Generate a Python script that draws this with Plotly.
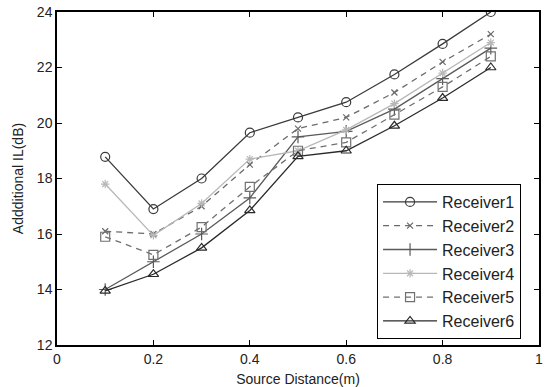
import plotly.graph_objects as go

x = [0.1, 0.2, 0.3, 0.4, 0.5, 0.6, 0.7, 0.8, 0.9]
r1 = [18.78, 16.9, 18.0, 19.65, 20.2, 20.75, 21.75, 22.85, 24.0]
r2 = [16.1, 16.0, 17.0, 18.5, 19.8, 20.2, 21.1, 22.2, 23.2]
r3 = [14.0, 15.0, 16.0, 17.3, 19.5, 19.7, 20.5, 21.6, 22.7]
r4 = [17.8, 15.95, 17.1, 18.7, 19.0, 19.75, 20.7, 21.8, 22.9]
r5 = [15.9, 15.25, 16.25, 17.7, 19.0, 19.3, 20.3, 21.3, 22.4]
r6 = [13.95, 14.55, 15.5, 16.85, 18.8, 19.0, 19.9, 20.9, 22.0]
names = ["Receiver1", "Receiver2", "Receiver3", "Receiver4", "Receiver5", "Receiver6"]
series = [r1, r2, r3, r4, r5, r6]

styles = [
    dict(color="#3a3a3a", dash="solid", symbol="circle-open", size=9),
    dict(color="#6a6a6a", dash="6px,5px", symbol="x-thin-open", size=6),
    dict(color="#5a5a5a", dash="solid", symbol="cross-thin-open", size=9),
    dict(color="#b8b8b8", dash="solid", symbol="asterisk-open", size=7),
    dict(color="#707070", dash="6px,5px", symbol="square-open", size=9),
    dict(color="#2a2a2a", dash="solid", symbol="triangle-up-open", size=9),
]

FONT = "Liberation Sans"

fig = go.Figure()
for i, (n, s, st) in enumerate(zip(names, series, styles)):
    fig.add_trace(go.Scatter(
        x=x, y=s, name=n, mode="lines+markers", legendgroup=n,
        line=dict(color=st["color"], dash=st["dash"], width=1.3),
        marker=dict(symbol=st["symbol"], size=st["size"], color=st["color"],
                    line=dict(color=st["color"], width=1.2)),
    ))

axis_common = dict(showline=True, linecolor="black", linewidth=1.5, mirror="ticks",
                   ticks="inside", ticklen=5, tickcolor="black", showgrid=False,
                   zeroline=False, automargin=False,
                   tickfont=dict(family=FONT, size=14, color="#222"))

fig.update_layout(
    width=551, height=387,
    margin=dict(l=57, r=12, t=12, b=42),
    paper_bgcolor="white", plot_bgcolor="white",
    font=dict(family=FONT, size=14, color="#222"),
    xaxis=dict(range=[0, 1], tickvals=[0, 0.2, 0.4, 0.6, 0.8, 1],
               ticktext=["0", "0.2", "0.4", "0.6", "0.8", "1"],
               title=dict(text="Source Distance(m)", standoff=10, font=dict(size=14)),
               **axis_common),
    yaxis=dict(range=[12, 24], tickvals=[12, 14, 16, 18, 20, 22, 24],
               title=dict(text="Addditional IL(dB)", standoff=10, font=dict(size=14)),
               **axis_common),
    legend=dict(x=0.664, y=0.4835, xanchor="left", yanchor="top",
                bordercolor="black", borderwidth=1, bgcolor="white",
                font=dict(size=16, color="#222"), tracegroupgap=0,
                itemwidth=54),
    showlegend=True,
)

fig.write_html("out.html")
